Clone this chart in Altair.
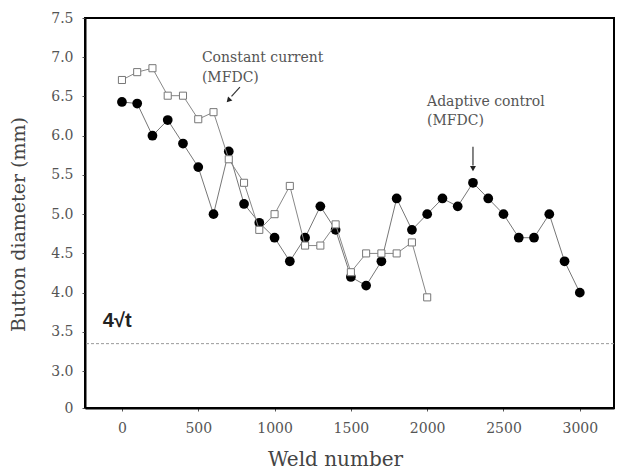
import altair as alt
import pandas as pd

# ---- data ----
weld_adaptive = list(range(0, 3001, 100))
dia_adaptive = [6.43, 6.41, 6.00, 6.20, 5.90, 5.60, 5.00, 5.80, 5.13, 4.89,
                4.70, 4.40, 4.70, 5.10, 4.80, 4.20, 4.09, 4.40, 5.20, 4.80,
                5.00, 5.20, 5.10, 5.40, 5.20, 5.00, 4.70, 4.70, 5.00, 4.40, 4.00]

weld_constant = list(range(0, 2001, 100))
dia_constant = [6.71, 6.81, 6.86, 6.51, 6.51, 6.21, 6.30, 5.70, 5.40, 4.80,
                5.00, 5.36, 4.60, 4.60, 4.87, 4.26, 4.50, 4.50, 4.50, 4.64, 3.94]

x_ticks = [0, 500, 1000, 1500, 2000, 2500, 3000]
y_ticks = [2.53, 3.0, 3.5, 4.0, 4.5, 5.0, 5.5, 6.0, 6.5, 7.0, 7.5]
limit_value = 3.35  # 4*sqrt(t)

df_a = pd.DataFrame({"weld": weld_adaptive, "dia": dia_adaptive})
df_c = pd.DataFrame({"weld": weld_constant, "dia": dia_constant})

SERIF = "DejaVu Serif"

xs = alt.Scale(domain=[-242, 3224], nice=False, zero=False)
ys = alt.Scale(domain=[2.53, 7.5], nice=False, zero=False)

x_axis = alt.Axis(
    values=x_ticks, format="d", title="Weld number", labelOverlap=False,
    titleX=250, titleY=57, titleBaseline="alphabetic", titleAnchor="start",
    titleAlign="center")
y_axis = alt.Axis(
    values=y_ticks, format=".1f", title="Button diameter (mm)", labelOverlap=False,
    labelExpr="datum.value < 2.9 ? '0' : datum.label",
    titleX=-67, titleY=206, titleAlign="center", titleBaseline="middle",
    titleAngle=270)

X = alt.X("weld:Q", scale=xs, axis=x_axis)
Y = alt.Y("dia:Q", scale=ys, axis=y_axis)

line_a = alt.Chart(df_a).mark_line(color="#777777", strokeWidth=1).encode(x=X, y=Y)
pts_a = alt.Chart(df_a).mark_circle(color="black", size=95, opacity=1).encode(x=X, y=Y)
line_c = alt.Chart(df_c).mark_line(color="#888888", strokeWidth=1).encode(x=X, y=Y)
pts_c = alt.Chart(df_c).mark_point(shape="square", filled=True, fill="white",
                                   stroke="#777777", strokeWidth=1, size=50,
                                   opacity=1).encode(x=X, y=Y)

limit = alt.Chart(pd.DataFrame({"dia": [limit_value]})).mark_rule(
    color="#999999", strokeDash=[3, 2], strokeWidth=1).encode(y=Y)

# annotations
ann_text = pd.DataFrame({
    "weld": [524, 524, 1999, 1999],
    "dia": [6.94, 6.68, 6.38, 6.14],
    "label": ["Constant current", "(MFDC)", "Adaptive control", "(MFDC)"],
})
texts = alt.Chart(ann_text).mark_text(
    align="left", baseline="alphabetic", font=SERIF, fontSize=14, color="#555555"
).encode(x=X, y=Y, text="label:N")

lim_label = alt.Chart(pd.DataFrame({"weld": [-125], "dia": [3.56], "label": ["4√t"]})).mark_text(
    align="left", baseline="alphabetic", font="Liberation Sans", fontWeight="bold",
    fontSize=20, color="#222222"
).encode(x=X, y=Y, text="label:N")

shafts = pd.DataFrame({
    "weld": [773, 2300], "dia": [6.62, 5.86],
    "weld2": [718, 2300], "dia2": [6.50, 5.62],
})
arrow_lines = alt.Chart(shafts).mark_rule(color="#333333", strokeWidth=1.2).encode(
    x=X, y=Y, x2="weld2:Q", y2="dia2:Q")

heads = pd.DataFrame({"weld": [698, 2300], "dia": [6.45, 5.58], "ang": [223, 180]})
arrow_heads = alt.Chart(heads).mark_point(shape="triangle-up", filled=True, color="#222222",
                                          size=35, opacity=1).encode(
    x=X, y=Y, angle=alt.Angle("ang:Q", scale=None))

chart = alt.layer(
    line_a, pts_a, line_c, pts_c, limit, texts, lim_label, arrow_lines, arrow_heads
).properties(
    width=529, height=390,
    padding={"left": 85, "top": 18, "right": 10, "bottom": 64},
    autosize=alt.AutoSizeParams(type="none"),
).configure_view(
    stroke="black", strokeWidth=2
).configure_axis(
    grid=False, domainColor="black", domainWidth=2, labelOverlap=False,
    tickColor="#555555", tickSize=3, labelFont=SERIF, labelFontSize=14,
    labelColor="#555555", titleFont=SERIF, titleFontWeight="normal",
    titleColor="#444444", labelPadding=9,
).configure_axisX(titleFontSize=20, labelPadding=10).configure_axisY(titleFontSize=19)

chart.save("out.html", embed_options={"renderer": "svg", "actions": False})
